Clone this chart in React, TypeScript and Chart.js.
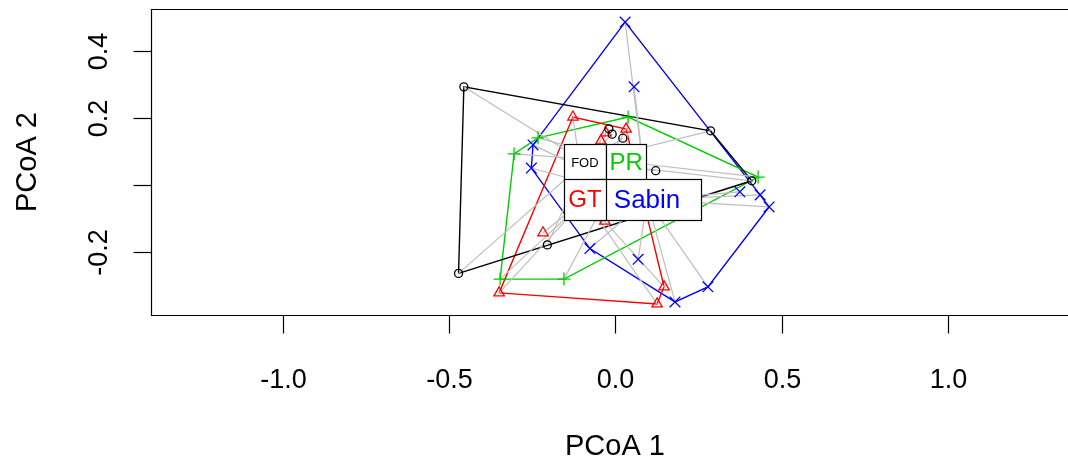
import React, { useEffect, useRef } from "react";
import { Chart, registerables } from "chart.js";

Chart.register(...registerables);

// ---- data (PCoA scores) ----
const groups = ["FOD", "GT", "PR", "Sabin"];
const groupColors = ["#000000", "#FF0000", "#00CD00", "#0000FF"];

const fodX = [-0.456, 0.286, 0.41, -0.472, -0.205, -0.02, -0.01, 0.022, 0.121];
const fodY = [0.293, 0.162, 0.013, -0.263, -0.178, 0.168, 0.152, 0.14, 0.043];

const gtX = [-0.128, -0.029, 0.032, -0.044, -0.218, -0.35, 0.146, 0.125, -0.032];
const gtY = [0.203, 0.156, 0.167, 0.132, -0.142, -0.321, -0.303, -0.354, -0.107];

const prX = [-0.305, -0.233, 0.038, 0.429, -0.155, -0.347];
const prY = [0.093, 0.141, 0.203, 0.024, -0.28, -0.28];

const sabinX = [0.029, 0.056, -0.248, -0.253, -0.077, 0.068, 0.179, 0.278, 0.374, 0.435, 0.462];
const sabinY = [0.486, 0.293, 0.12, 0.051, -0.189, -0.221, -0.348, -0.303, -0.02, -0.029, -0.065];

const centroidX = [-0.092, -0.092, 0.032, 0.095];
const centroidY = [0.069, -0.043, 0.069, -0.043];

const xTicks = [-1.0, -0.5, 0.0, 0.5, 1.0];
const xTickLabels = ["-1.0", "-0.5", "0.0", "0.5", "1.0"];
const yTicks = [-0.2, 0.0, 0.2, 0.4];
const yTickLabels = ["-0.2", "", "0.2", "0.4"];

const xTitle = "PCoA 1";
const yTitle = "PCoA 2";

// ---- styles ----
const FONT = '"Liberation Sans", Arial, sans-serif';
const TICK_FS = 27;
const TITLE_FS = 29;
const pointStyles = ["circle", "triangle", "cross", "crossRot"];
const pointRadii = [4, 6, 6.5, 7.5];
// label boxes: width, height (pixels), font size; drawn in this order
const labelOrder = [0, 2, 3, 1];
const labelBox = [
  { w: 42, h: 36, fs: 13 },
  { w: 42, h: 41, fs: 24 },
  { w: 40, h: 36, fs: 24 },
  { w: 108, h: 41, fs: 26 },
];

const seriesX = [fodX, gtX, prX, sabinX];
const seriesY = [fodY, gtY, prY, sabinY];

type P = { x: number; y: number };

function convexHull(xs: number[], ys: number[]): P[] {
  const pts = xs.map((x, i) => ({ x, y: ys[i] })).sort((a, b) => a.x - b.x || a.y - b.y);
  const cross = (o: P, a: P, b: P) => (a.x - o.x) * (b.y - o.y) - (a.y - o.y) * (b.x - o.x);
  const lower: P[] = [];
  for (const p of pts) {
    while (lower.length >= 2 && cross(lower[lower.length - 2], lower[lower.length - 1], p) <= 0) lower.pop();
    lower.push(p);
  }
  const upper: P[] = [];
  for (let i = pts.length - 1; i >= 0; i--) {
    const p = pts[i];
    while (upper.length >= 2 && cross(upper[upper.length - 2], upper[upper.length - 1], p) <= 0) upper.pop();
    upper.push(p);
  }
  const h = lower.slice(0, -1).concat(upper.slice(0, -1));
  return h.concat([h[0]]);
}

const framePlugin = {
  id: "rframe",
  afterDatasetsDraw(chart: any) {
    const { ctx } = chart;
    const xs = chart.scales.x;
    const ys = chart.scales.y;
    ctx.save();
    for (const g of labelOrder) {
      const px = xs.getPixelForValue(centroidX[g]);
      const py = ys.getPixelForValue(centroidY[g]);
      const b = labelBox[g];
      const l = Math.round(px - b.w / 2) + 0.5;
      const t = Math.round(py - b.h / 2) + 0.5;
      ctx.fillStyle = "#FFFFFF";
      ctx.fillRect(l, t, b.w, b.h);
      ctx.strokeStyle = "#000000";
      ctx.lineWidth = 1.2;
      ctx.strokeRect(l, t, b.w, b.h);
      ctx.fillStyle = groupColors[g];
      ctx.font = `${b.fs}px ${FONT}`;
      ctx.textAlign = "center";
      ctx.textBaseline = "middle";
      ctx.fillText(groups[g], px, py + 1);
    }
    ctx.restore();
  },
  afterDraw(chart: any) {
    const { ctx, chartArea } = chart;
    const xs = chart.scales.x;
    const ys = chart.scales.y;
    ctx.save();
    ctx.strokeStyle = "#000000";
    ctx.lineWidth = 1.2;
    const L = Math.round(chartArea.left) + 0.5;
    const T = Math.round(chartArea.top) + 0.5;
    const B = Math.round(chartArea.bottom) + 0.5;
    const R = chartArea.right + 5;
    ctx.beginPath();
    ctx.moveTo(R, T);
    ctx.lineTo(L, T);
    ctx.lineTo(L, B);
    ctx.lineTo(R, B);
    ctx.stroke();
    ctx.fillStyle = "#000000";
    ctx.font = `${TICK_FS}px ${FONT}`;
    ctx.textAlign = "center";
    ctx.textBaseline = "alphabetic";
    xTicks.forEach((v, i) => {
      const px = Math.round(xs.getPixelForValue(v)) + 0.5;
      ctx.beginPath();
      ctx.moveTo(px, B);
      ctx.lineTo(px, B + 18);
      ctx.stroke();
      ctx.fillText(xTickLabels[i], px, 388);
    });
    yTicks.forEach((v, i) => {
      const py = Math.round(ys.getPixelForValue(v)) + 0.5;
      ctx.beginPath();
      ctx.moveTo(L, py);
      ctx.lineTo(L - 18, py);
      ctx.stroke();
      if (yTickLabels[i]) {
        ctx.save();
        ctx.translate(107, py);
        ctx.rotate(-Math.PI / 2);
        ctx.fillText(yTickLabels[i], 0, 0);
        ctx.restore();
      }
    });
    ctx.font = `${TITLE_FS}px ${FONT}`;
    ctx.fillText(xTitle, 615, 455);
    ctx.save();
    ctx.translate(36, (chartArea.top + chartArea.bottom) / 2);
    ctx.rotate(-Math.PI / 2);
    ctx.fillText(yTitle, 0, 0);
    ctx.restore();
    ctx.restore();
  },
};

export default function App() {
  const ref = useRef<HTMLCanvasElement>(null);
  useEffect(() => {
    document.body.style.margin = "0";
    const datasets: any[] = [];
    groups.forEach((g, gi) => {
      const xsArr = seriesX[gi];
      const ysArr = seriesY[gi];
      datasets.push({
        label: g + " hull",
        data: convexHull(xsArr, ysArr),
        showLine: true,
        borderColor: groupColors[gi],
        borderWidth: 1.4,
        pointRadius: 0,
        fill: false,
        tension: 0,
        order: 3,
      });
      const seg: any[] = [];
      xsArr.forEach((x, i) => {
        seg.push({ x, y: ysArr[i] });
        seg.push({ x: centroidX[gi], y: centroidY[gi] });
        seg.push({ x: null, y: null });
      });
      datasets.push({
        label: g + " segments",
        data: seg,
        showLine: true,
        spanGaps: false,
        borderColor: "#BEBEBE",
        borderWidth: 1.2,
        pointRadius: 0,
        fill: false,
        tension: 0,
        order: 2,
      });
    });
    groups.forEach((g, gi) => {
      datasets.push({
        label: g,
        data: seriesX[gi].map((x, i) => ({ x, y: seriesY[gi][i] })),
        showLine: false,
        pointStyle: pointStyles[gi],
        pointRadius: pointRadii[gi],
        pointBorderWidth: 1.3,
        pointBorderColor: groupColors[gi],
        pointBackgroundColor: "rgba(0,0,0,0)",
        order: 1,
      });
    });
    const chart = new Chart(ref.current!, {
      type: "scatter",
      data: { datasets },
      options: {
        responsive: false,
        animation: false,
        layout: { autoPadding: false, padding: { left: 151, top: 9, right: 0, bottom: 146 } },
        plugins: { legend: { display: false }, tooltip: { enabled: false } },
        scales: {
          x: { type: "linear", min: -1.397, max: 1.361, display: false },
          y: { type: "linear", min: -0.387, max: 0.525, display: false },
        },
      },
      plugins: [framePlugin],
    });
    return () => chart.destroy();
  }, []);
  return <canvas ref={ref} width={1068} height={461} style={{ display: "block" }} />;
}
